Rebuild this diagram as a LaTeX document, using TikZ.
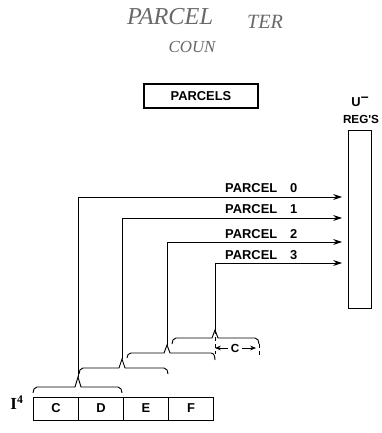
\documentclass[tikz,border=0pt]{standalone}
\usepackage{fontspec}
\setmainfont{Liberation Sans}
\newfontfamily\typeserif{Liberation Serif}
\definecolor{pencil}{RGB}{105,105,105}
\usetikzlibrary{arrows.meta,positioning}

\tikzset{
  box/.style={draw, line width=0.8pt, font=\fontsize{11}{13}\selectfont\bfseries, inner sep=0pt, outer sep=0pt},
  cell/.style={box, minimum width=1.35cm, minimum height=0.69cm},
  parcel line/.style={line width=0.8pt, -{Stealth[length=7.5pt,width=5pt]}},
  parcel text/.style={font=\fontsize{11}{13}\selectfont\bfseries, inner sep=0pt, anchor=base west},
  brace line/.style={line width=0.8pt},
  dim arrow/.style={line width=0.7pt, -{Stealth[length=5pt,width=4pt]}},
  hand/.style={font=\typeserif\itshape, text=pencil, inner sep=0pt}
}

\begin{document}
\begin{tikzpicture}[x=0.03cm, y=-0.03cm]
  \useasboundingbox (0,0) rectangle (381,433);

  %--- pencil note ---
  \node[hand, font=\typeserif\itshape\huge] (noteparcel) at (170,17) {PARCEL};
  \node[hand, font=\typeserif\itshape\LARGE] (noteter) at (265,22) {TER};
  \node[hand, font=\typeserif\itshape\Large] (notecoun) at (192,47) {COUN};

  %--- title ---
  \node[box, line width=1.2pt, minimum width=3.42cm, minimum height=0.72cm] (parcels) at (201,96) {PARCELS};

  %--- U registers ---
  \node[box, minimum width=0.69cm, minimum height=5.34cm] (ureg) at (359.5,219) {};
  \node[font=\fontsize{11}{13}\selectfont\bfseries, inner sep=0pt] (uname) at (360,102) {U\raisebox{4pt}{\large\textendash}};
  \node[font=\fontsize{10}{12}\selectfont\bfseries, inner sep=0pt] (regname) at (361,119) {REG\textquotesingle S};

  \coordinate (in0) at (342,197);
  \coordinate (in1) at (342,218);
  \coordinate (in2) at (342,242);
  \coordinate (in3) at (342,263);

  %--- I4 register ---
  \node[font=\typeserif\bfseries\Large, inner sep=0pt] (ifour) at (17,403) {I\textsuperscript{4}};
  \node[cell] (cellC) at (56,408.5) {C};
  \node[cell, right=0pt of cellC] (cellD) {D};
  \node[cell, right=0pt of cellD] (cellE) {E};
  \node[cell, right=0pt of cellE] (cellF) {F};

  %--- braces ---
  \coordinate (tip1) at (78,377);
  \coordinate (tip2) at (122,359);
  \coordinate (tip3) at (167,345);
  \coordinate (tip4) at (215,330);

  \draw[brace line] (33,393) to[out=90,in=180] (37,387) -- (75,387) -- (tip1) -- (81,387) -- (118,387) to[out=0,in=90] (122,393);
  \draw[brace line] (79,374) to[out=90,in=180] (83,368) -- (119,368) -- (tip2) -- (125,368) -- (164,368) to[out=0,in=90] (168,374);
  \draw[brace line] (127,358) to[out=90,in=180] (131,353) -- (164,353) -- (tip3) -- (170,353) -- (211,353) to[out=0,in=90] (215,360);
  \draw[brace line] (172,344) to[out=90,in=180] (176,338) -- (212,338) -- (tip4) -- (218,338) -- (255,338) to[out=0,in=90] (259,344);

  % parcels -> U registers
  \draw[parcel line] (tip1) |- (in0);
  \draw[parcel line] (tip2) |- (in1);
  \draw[parcel line] (tip3) |- (in2);
  \draw[parcel line] (tip4) |- (in3);

  \node[parcel text] (lab0) at (225,193) {PARCEL\quad 0};
  \node[parcel text] (lab1) at (225,214) {PARCEL\quad 1};
  \node[parcel text] (lab2) at (225,238) {PARCEL\quad 2};
  \node[parcel text] (lab3) at (225,259) {PARCEL\quad 3};

  %--- parcel width C ---
  \coordinate (cl) at (215,348);
  \coordinate (cr) at (256,348);
  \coordinate (cldown) at (215,354);
  \coordinate (crtop) at (259,344);
  \coordinate (crdown) at (259,357);
  \node[font=\fontsize{10}{12}\selectfont\bfseries, inner sep=2pt] (cwidth) at (235,348) {C};
  \draw[dim arrow] (cwidth) -- (cl);
  \draw[dim arrow] (cwidth) -- (cr);
  \draw[line width=0.7pt, dashed] (tip4) -- (cldown);
  \draw[line width=0.7pt, dashed] (crtop) -- (crdown);
\end{tikzpicture}
\end{document}
